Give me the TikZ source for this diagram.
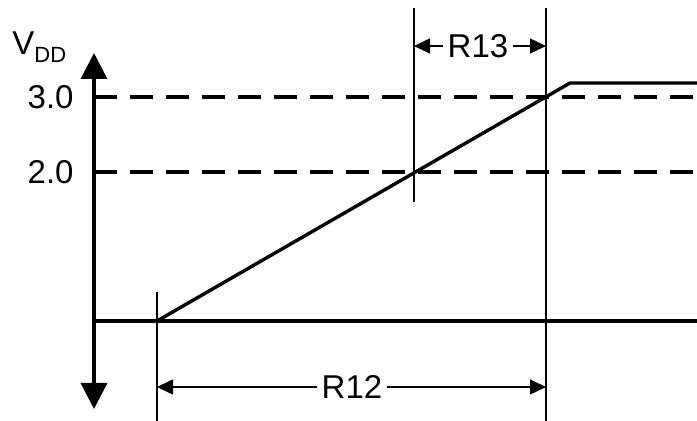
\documentclass[tikz,border=0pt]{standalone}
\usepackage{fontspec}
\setmainfont{Liberation Sans}
\usetikzlibrary{arrows.meta}

\begin{document}
\begin{tikzpicture}[x=0.5pt, y=-0.5pt,
  lbl/.style={font=\fontsize{16.5}{19}\selectfont, inner sep=0pt},
  dimlbl/.style={font=\fontsize{16.5}{19}\selectfont, inner sep=2pt},
  axisline/.style={line width=1.7pt},
  guide/.style={line width=1pt},
  level/.style={line width=1.6pt, dash pattern=on 11.5pt off 6.5pt},
  dimline/.style={line width=0.7pt, -{Triangle[length=8pt,width=7.5pt]}}]

  \useasboundingbox (0,0) rectangle (697,421);

  % axis
  \coordinate (top) at (94,53);
  \coordinate (bot) at (94,409);
  \draw[axisline, {Triangle[length=13pt,width=13pt]}-{Triangle[length=13pt,width=13pt]}] (bot) -- (top);
  \node[lbl, anchor=base west] (vdd) at (12,55) {V\raisebox{-4pt}{\fontsize{11}{12}\selectfont DD}};
  \node[lbl, anchor=east] (v3) at (74,97) {3.0};
  \node[lbl, anchor=east] (v2) at (74,172) {2.0};

  % levels
  \coordinate (l3a) at (94,97);
  \coordinate (l3b) at (697,97);
  \coordinate (l2a) at (94,172);
  \coordinate (l2b) at (697,172);
  \draw[level] (l3a) -- (l3b);
  \draw[level] (l2a) -- (l2b);

  % baseline and ramp
  \coordinate (o) at (94,321);
  \coordinate (ob) at (697,321);
  \coordinate (rs) at (157,321);
  \coordinate (rk) at (570,83);
  \coordinate (re) at (697,83);
  \draw[axisline] (o) -- (ob);
  \draw[axisline, line join=miter] (rs) -- (rk) -- (re);

  % guides
  \coordinate (g1a) at (157,292);
  \coordinate (g1b) at (157,421);
  \coordinate (g2a) at (414,8);
  \coordinate (g2b) at (414,202);
  \coordinate (g3a) at (546,8);
  \coordinate (g3b) at (546,421);
  \draw[guide] (g1a) -- (g1b);
  \draw[guide] (g2a) -- (g2b);
  \draw[guide] (g3a) -- (g3b);

  % dimensions
  \coordinate (a13l) at (414,46);
  \coordinate (a13r) at (546,46);
  \node[dimlbl] (r13) at (478,46) {R13};
  \draw[dimline] (r13.west) -- (a13l);
  \draw[dimline] (r13.east) -- (a13r);

  \coordinate (a12l) at (157,387);
  \coordinate (a12r) at (546,387);
  \node[dimlbl] (r12) at (352,387) {R12};
  \draw[dimline] (r12.west) -- (a12l);
  \draw[dimline] (r12.east) -- (a12r);
\end{tikzpicture}
\end{document}
